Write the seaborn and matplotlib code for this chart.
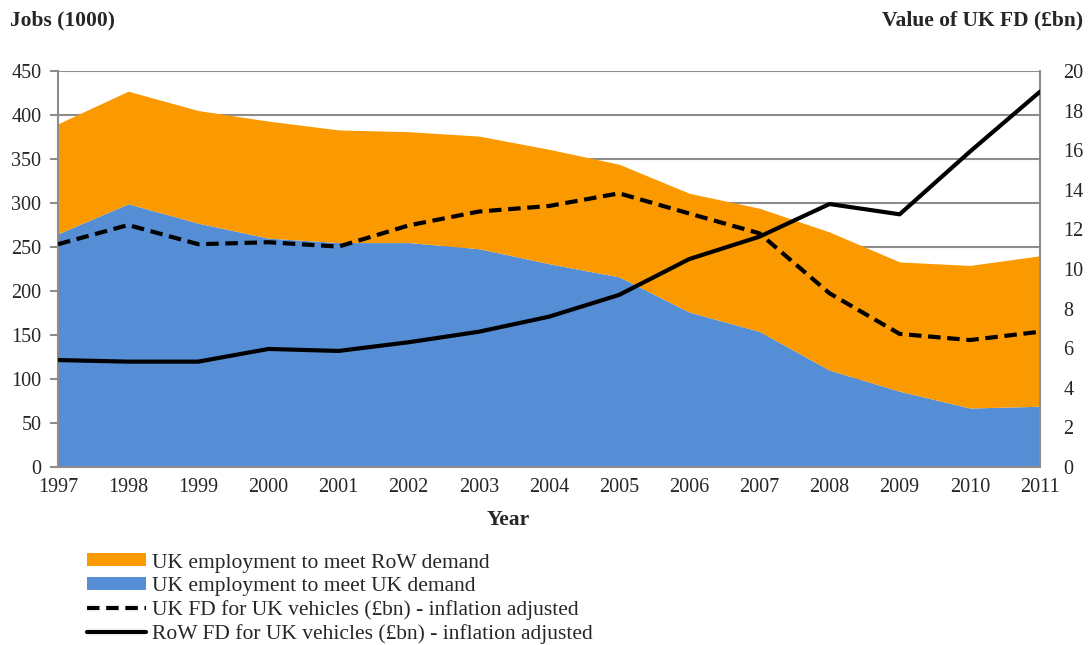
import matplotlib.pyplot as plt
import seaborn as sns
import pandas as pd

years = list(range(1997, 2012))
uk_demand_jobs = [265, 299, 277, 260, 255, 255, 248, 231, 216, 176, 154, 110, 86, 67, 69]
total_jobs = [390, 427, 405, 393, 383, 381, 376, 361, 344, 311, 294, 267, 233, 229, 240]
row_demand_jobs = [t - u for t, u in zip(total_jobs, uk_demand_jobs)]
uk_fd = [11.25, 12.22, 11.25, 11.35, 11.13, 12.2, 12.9, 13.18, 13.82, 12.8, 11.8, 8.77, 6.72, 6.41, 6.83]
row_fd = [5.4, 5.32, 5.32, 5.96, 5.86, 6.3, 6.83, 7.59, 8.69, 10.5, 11.63, 13.28, 12.76, 15.92, 18.95]

df = pd.DataFrame({"Year": years, "uk_fd": uk_fd, "row_fd": row_fd})

sns.set_style("white")
plt.rcParams["font.family"] = ["Liberation Serif", "DejaVu Serif"]

orange = "#FB9A00"
blue = "#558ED5"
grey = "#8C8C8C"

fig = plt.figure(figsize=(10.91, 6.45), dpi=100)
ax = fig.add_axes([0.0532, 0.276, 0.9, 0.614])

# stacked areas (blue first, orange on top)
ax.stackplot(years, uk_demand_jobs, row_demand_jobs, colors=[blue, orange],
             labels=["UK employment to meet UK demand", "UK employment to meet RoW demand"],
             linewidth=0, zorder=2)
ax.set_ylim(0, 450)
ax.set_xlim(1997, 2011)
ax.set_yticks(range(0, 451, 50))
ax.set_xticks(years)
ax.yaxis.grid(True, color=grey, linewidth=1.5, zorder=0)
ax.set_axisbelow(True)
for s in ["left", "bottom", "right", "top"]:
    ax.spines[s].set_color(grey)
    ax.spines[s].set_linewidth(1.5)
ax.spines["top"].set_visible(False)
ax.tick_params(axis="both", direction="out", length=6, color=grey, width=1.5,
               labelsize=14.5)
ax.tick_params(axis="y", pad=6)
ax.tick_params(axis="x", pad=2)
ax.set_xlabel("")
ax.set_ylabel("")

ax2 = ax.twinx()
sns.lineplot(data=df, x="Year", y="uk_fd", ax=ax2, color="black", linewidth=3,
             linestyle=(0, (3, 1.6)), label="UK FD for UK vehicles (£bn) - inflation adjusted")
sns.lineplot(data=df, x="Year", y="row_fd", ax=ax2, color="black", linewidth=3,
             label="RoW FD for UK vehicles (£bn) - inflation adjusted")
ax2.set_ylim(0, 20)
ax2.set_yticks(range(0, 21, 2))
ax2.set_ylabel("")
ax2.set_xlabel("")
for s in ["left", "bottom", "right", "top"]:
    ax2.spines[s].set_visible(False)
ax2.tick_params(axis="y", length=0, labelsize=14.5, pad=17)
ax2.get_legend().remove()

fig.text(0.009, 0.969, "Jobs (1000)", fontsize=15.5, fontweight="bold", ha="left", va="center")
fig.text(0.993, 0.969, "Value of UK FD (£bn)", fontsize=15.5, fontweight="bold", ha="right", va="center")
fig.text(0.466, 0.194, "Year", fontsize=15.5, fontweight="bold", ha="center", va="center")

h1, l1 = ax.get_legend_handles_labels()
h2, l2 = ax2.get_legend_handles_labels()
handles = [h1[1], h1[0]] + h2
labels = [l1[1], l1[0]] + l2
fig.legend(handles, labels, loc="upper left", bbox_to_anchor=(0.08, 0.142),
           frameon=False, fontsize=15.5, handlelength=2.75, handleheight=0.55,
           handletextpad=0.25, labelspacing=0.2, borderaxespad=0, borderpad=0)

fig.savefig("out.png", dpi=100)
